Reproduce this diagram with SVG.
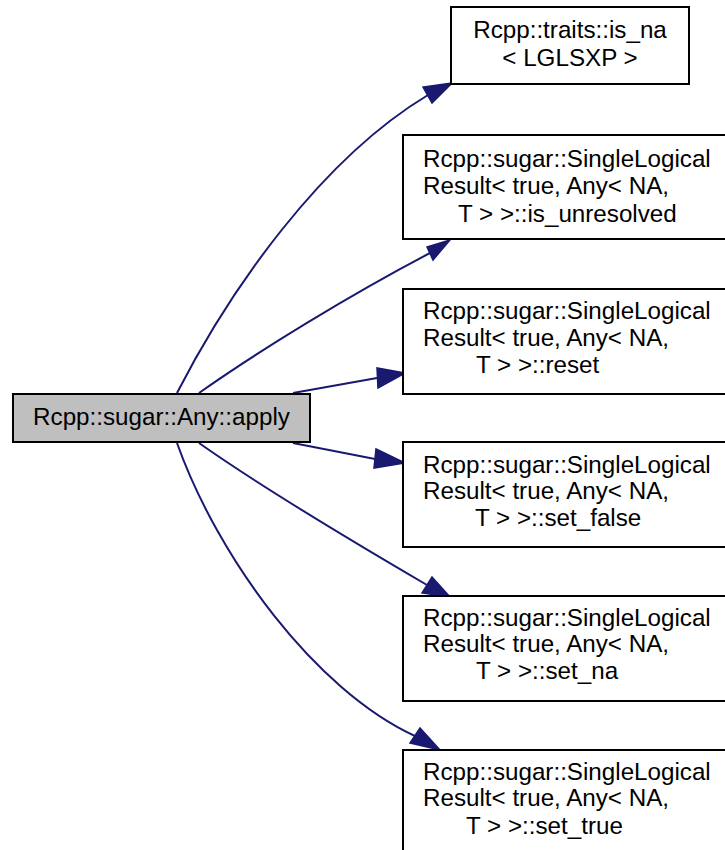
<svg xmlns="http://www.w3.org/2000/svg" width="725" height="850" viewBox="0 0 725 850">
  <style>
    .box { fill: #ffffff; stroke: #000000; stroke-width: 2; }
    .focus { fill: #bfbfbf; stroke: #000000; stroke-width: 2; }
    .lbl { font-family: "Liberation Sans", Arial, Helvetica, sans-serif; font-size: 24.2px; fill: #000000; }
    .mid { text-anchor: middle; }
    .edge { fill: none; stroke: #191970; stroke-width: 2; }
    .head { fill: #191970; stroke: #191970; stroke-width: 1.5; stroke-linejoin: miter; }
  </style>
  <rect width="725" height="850" fill="#ffffff"/>

  <!-- call edges from apply -->
  <g id="edges">
    <path class="edge" d="M177,393 C230,290 320,160 428,95"/>
    <polygon class="head" points="452,83 423,87 432,103"/>
    <path class="edge" d="M199,393 C260,350 350,295 430,253"/>
    <polygon class="head" points="450,240 427,247 433,260"/>
    <path class="edge" d="M293,393 L377,378"/>
    <polygon class="head" points="405,373 377,368 378,388"/>
    <path class="edge" d="M293,443 L375,459"/>
    <polygon class="head" points="405,463 376,449 374,468"/>
    <path class="edge" d="M199,443 C260,486 350,540 427,585"/>
    <polygon class="head" points="450,597 422,593 432,577"/>
    <path class="edge" d="M177,443 C218,558 315,690 415,736"/>
    <polygon class="head" points="440,750 410,743 420,728"/>
  </g>

  <g id="apply">
    <rect class="focus" x="13" y="394" width="297" height="48"/>
    <text class="lbl mid" x="161.5" y="425">Rcpp::sugar::Any::apply</text>
  </g>

  <g id="is_na">
    <rect class="box" x="451" y="7" width="238" height="77"/>
    <text class="lbl mid" x="570" y="38">Rcpp::traits::is_na</text>
    <text class="lbl mid" x="570" y="66">&lt; LGLSXP &gt;</text>
  </g>

  <g id="is_unresolved">
    <rect class="box" x="403" y="135" width="335" height="104"/>
    <text class="lbl" x="423" y="167">Rcpp::sugar::SingleLogical</text>
    <text class="lbl" x="423" y="194">Result&lt; true, Any&lt; NA,</text>
    <text class="lbl" x="458" y="222">T &gt; &gt;::is_unresolved</text>
  </g>

  <g id="reset">
    <rect class="box" x="403" y="289" width="335" height="105"/>
    <text class="lbl" x="423" y="319">Rcpp::sugar::SingleLogical</text>
    <text class="lbl" x="423" y="346">Result&lt; true, Any&lt; NA,</text>
    <text class="lbl" x="476" y="373">T &gt; &gt;::reset</text>
  </g>

  <g id="set_false">
    <rect class="box" x="403" y="442" width="335" height="105"/>
    <text class="lbl" x="423" y="473">Rcpp::sugar::SingleLogical</text>
    <text class="lbl" x="423" y="499">Result&lt; true, Any&lt; NA,</text>
    <text class="lbl" x="475" y="526">T &gt; &gt;::set_false</text>
  </g>

  <g id="set_na">
    <rect class="box" x="403" y="596" width="335" height="105"/>
    <text class="lbl" x="423" y="626">Rcpp::sugar::SingleLogical</text>
    <text class="lbl" x="423" y="652">Result&lt; true, Any&lt; NA,</text>
    <text class="lbl" x="476" y="679">T &gt; &gt;::set_na</text>
  </g>

  <g id="set_true">
    <rect class="box" x="403" y="750" width="335" height="105"/>
    <text class="lbl" x="423" y="780">Rcpp::sugar::SingleLogical</text>
    <text class="lbl" x="423" y="806">Result&lt; true, Any&lt; NA,</text>
    <text class="lbl" x="466" y="834">T &gt; &gt;::set_true</text>
  </g>
</svg>
